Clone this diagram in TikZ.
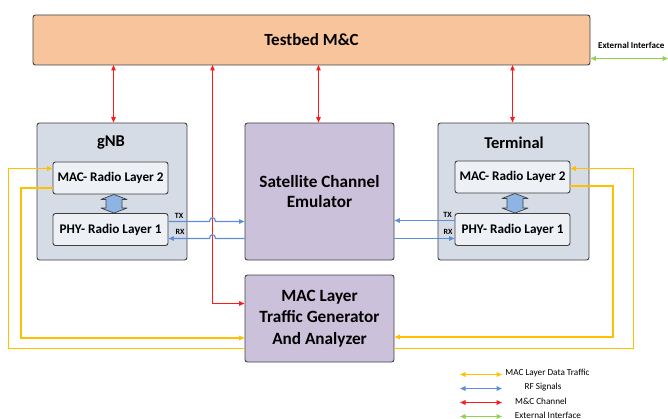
\documentclass[tikz,border=0pt]{standalone}
\usepackage{fontspec}
\setmainfont{Carlito}
\usetikzlibrary{arrows.meta,calc}
\definecolor{tbfill}{HTML}{F8C49C}
\definecolor{grayfill}{HTML}{D6DCE5}
\definecolor{innerfill}{HTML}{EDF0F5}
\definecolor{lilac}{HTML}{CCC1DA}
\definecolor{blockblue}{HTML}{8DB4E2}
\definecolor{edge}{HTML}{404040}
\definecolor{rfblue}{HTML}{5B8FD9}
\definecolor{macyel}{HTML}{FFC000}
\definecolor{mcred}{HTML}{FF1A1A}
\definecolor{extgreen}{HTML}{92D050}
\tikzset{
  tip/.tip={Triangle[length=5.5pt,width=4.5pt]},
  box/.style={draw=edge, line width=0.9pt, rounded corners=2.5pt, inner sep=0pt, align=center, font=\bfseries},
  conn/.style={draw=#1, fill=none, line width=1.2pt},
  lbl/.style={inner sep=0pt, font=\bfseries\fontsize{8}{9}\selectfont},
  leg/.style={inner sep=0pt, font=\fontsize{9.2}{10}\selectfont},
}
\begin{document}
\begin{tikzpicture}[x=1pt,y=-1pt]
\useasboundingbox (0,0) rectangle (668,419);
% main boxes
\node[box, fill=tbfill, minimum width=557pt, minimum height=50pt, font=\bfseries\fontsize{17}{19}\selectfont] (tb) at (311.5,40) {Testbed M\&C};
\node[box, fill=grayfill, minimum width=150pt, minimum height=137pt] (gnb) at (112,191.5) {};
\node[box, fill=grayfill, minimum width=151pt, minimum height=137pt] (term) at (513.5,191.5) {};
\node[inner sep=0pt, font=\bfseries\fontsize{16.5}{18}\selectfont] (gnbt) at (111,142.5) {gNB};
\node[inner sep=0pt, font=\bfseries\fontsize{16.5}{18}\selectfont] (termt) at (514,142.5) {Terminal};
\node[box, fill=innerfill, minimum width=115pt, minimum height=32pt, font=\bfseries\fontsize{13.2}{15}\selectfont] (gmac) at (110.5,178) {MAC- Radio Layer 2};
\node[box, fill=innerfill, minimum width=115pt, minimum height=32pt, font=\bfseries\fontsize{13.2}{15}\selectfont] (gphy) at (110.5,229.5) {PHY- Radio Layer 1};
\node[box, fill=innerfill, minimum width=115pt, minimum height=32pt, font=\bfseries\fontsize{13.2}{15}\selectfont] (tmac) at (512.5,177) {MAC- Radio Layer 2};
\node[box, fill=innerfill, minimum width=115pt, minimum height=32pt, font=\bfseries\fontsize{13.2}{15}\selectfont] (tphy) at (512.5,229.5) {PHY- Radio Layer 1};
\node[box, fill=lilac, minimum width=149pt, minimum height=137pt, font=\bfseries\fontsize{17.2}{20.5}\selectfont] (sat) at (319.5,191.5) {Satellite Channel\\Emulator};
\node[box, fill=lilac, minimum width=149pt, minimum height=87pt, font=\bfseries\fontsize{17.2}{21.5}\selectfont] (tg) at (319.5,318.5) {MAC Layer\\Traffic Generator\\And Analyzer};
% block double arrows
\foreach \m/\p/\cx in {gmac/gphy/114, tmac/tphy/515}{
  \coordinate (bt) at (\m.south);
  \coordinate (bb) at (\p.north);
  \coordinate (ct) at (\cx,0 |- bt);
  \coordinate (cb) at (\cx,0 |- bb);
  \filldraw[fill=blockblue, draw=edge, line width=0.7pt, line join=round]
    (ct) -- ($(ct)+(13,5)$) -- ($(ct)+(8,5)$) --
    ($(cb)+(8,-5)$) -- ($(cb)+(13,-5)$) -- (cb) -- ($(cb)+(-13,-5)$) --
    ($(cb)+(-8,-5)$) -- ($(ct)+(-8,5)$) -- ($(ct)+(-13,5)$) -- cycle;
}
% coordinates
\coordinate (rtop) at (212.5,65);
\coordinate (r1) at (113.5,65);
\coordinate (r2) at (318.5,65);
\coordinate (r3) at (512.5,65);
\coordinate (gtx) at ([yshift=8pt]gphy.east);
\coordinate (grx) at ([yshift=-9pt]gphy.east);
\coordinate (ttx) at ([yshift=9pt]tphy.west);
\coordinate (trx) at ([yshift=-9pt]tphy.west);
\coordinate (yl1) at (8.5,260);
\coordinate (yl2) at (21,260);
\coordinate (yr1) at (633.5,260);
\coordinate (yr2) at (613,260);
\coordinate (extend) at (668,58.5);
% MAC layer data traffic
\draw[conn=macyel, line width=1.6pt, tip-] ([yshift=-19.5pt]tg.west) -| (yl2) |- ([yshift=-10pt]gmac.west);
\draw[conn=macyel, line width=1.6pt, tip-] ([yshift=-18.5pt]tg.east) -| (yr2) |- ([yshift=-9pt]tmac.east);
\draw[conn=macyel, line width=1.5pt, -tip] ([yshift=-30pt]tg.west) -| (yl1) |- ([yshift=9.5pt]gmac.west);
\draw[conn=macyel, line width=1.5pt, -tip] ([yshift=-30pt]tg.east) -| (yr1) |- ([yshift=8.5pt]tmac.east);
% M&C
\draw[conn=mcred, tip-tip] (r1) -- (r1 |- gnb.north);
\draw[conn=mcred, tip-tip] (r2) -- (r2 |- sat.north);
\draw[conn=mcred, tip-tip] (r3) -- (r3 |- term.north);
\draw[conn=mcred, tip-tip] (rtop) |- ([yshift=15pt]tg.west);
% RF
\draw[conn=rfblue, -tip] (gtx) -- ($(rtop |- gtx)+(-3,0)$) .. controls ($(rtop |- gtx)+(-3,-5)$) and ($(rtop |- gtx)+(3,-5)$) .. ($(rtop |- gtx)+(3,0)$) -- (sat.west |- gtx);
\draw[conn=rfblue, tip-] (grx) -- ($(rtop |- grx)+(-3,0)$) .. controls ($(rtop |- grx)+(-3,-5)$) and ($(rtop |- grx)+(3,-5)$) .. ($(rtop |- grx)+(3,0)$) -- (sat.west |- grx);
\draw[conn=rfblue, tip-] (sat.east |- ttx) -- (ttx);
\draw[conn=rfblue, -tip] (sat.east |- trx) -- (trx);
\draw[conn=extgreen, line width=1.4pt, tip-tip] (tb.east |- extend) -- (extend);
% legend arrows
\foreach \yy/\cc [count=\i] in {374.5/macyel, 388.5/rfblue, 402.5/mcred, 416.5/extgreen}{
  \coordinate (la\i) at (460,\yy);
  \coordinate (lb\i) at (502,\yy);
  \draw[conn=\cc, line width=1.5pt, tip-tip] (la\i) -- (lb\i);
}
% labels
\node[lbl] (gtxl) at (179,216) {TX};
\node[lbl] (grxl) at (180,231.5) {RX};
\node[lbl] (ttxl) at (447.5,215) {TX};
\node[lbl] (trxl) at (448,232) {RX};
\node[inner sep=0pt, anchor=west, font=\bfseries\fontsize{9}{10}\selectfont] (extl) at (598,45) {External Interface};
\node[leg] (lt1) at (547.5,373) {MAC Layer Data Traffic};
\node[leg] (lt2) at (543,387) {RF Signals};
\node[leg] (lt3) at (541,401) {M\&C Channel};
\node[leg] (lt4) at (548,415) {External Interface};
\end{tikzpicture}
\end{document}
